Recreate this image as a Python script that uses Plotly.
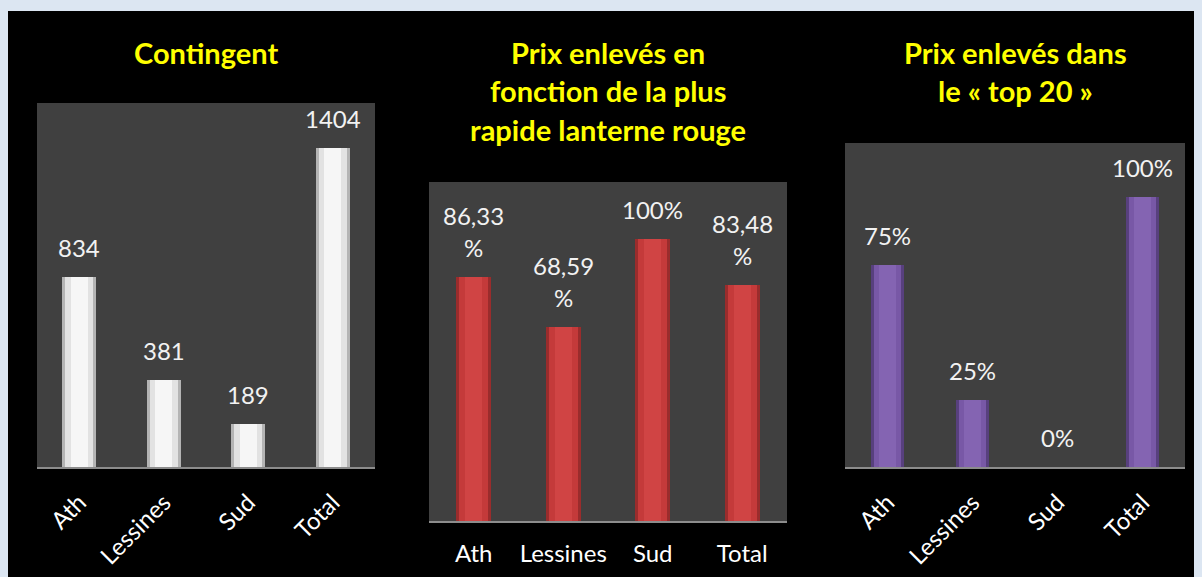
import plotly.graph_objects as go

categories = ["Ath", "Lessines", "Sud", "Total"]
contingent = [834, 381, 189, 1404]
contingent_labels = ["834", "381", "189", "1404"]
prix_lanterne = [0.8633, 0.6859, 1.00, 0.8348]
prix_lanterne_labels = ["86,33<br>%", "68,59<br>%", "100%", "83,48<br>%"]
prix_top20 = [0.75, 0.25, 0.0, 1.00]
prix_top20_labels = ["75%", "25%", "0%", "100%"]

titles = [["Contingent"],
          ["Prix enlevés en", "fonction de la plus", "rapide lanterne rouge"],
          ["Prix enlevés dans", "le « top 20 »"]]

# page offset (default body margin of the html page)
OFF = 8
W, H = 1202 - OFF, 577 - OFF
FONT = "Lato, 'Open Sans', sans-serif"

def px_x(v):
    return (v - OFF) / W

def px_y(v):
    return 1 - (v - OFF) / H

panels = [
    dict(vals=contingent, labels=contingent_labels, rng=[0, 1600],
         dom_x=[px_x(37), px_x(375)], dom_y=[px_y(467), px_y(103)],
         shades=["#b4b4b4", "#e2e2e2", "#f6f6f6"], angle=-45, width=0.4,
         title_x=px_x(206)),
    dict(vals=prix_lanterne, labels=prix_lanterne_labels, rng=[0, 1.2],
         dom_x=[px_x(429), px_x(787)], dom_y=[px_y(521), px_y(182)],
         shades=["#9a2c2c", "#c43a3a", "#d04444"], angle=0, width=0.39,
         title_x=px_x(608)),
    dict(vals=prix_top20, labels=prix_top20_labels, rng=[0, 1.2],
         dom_x=[px_x(845), px_x(1185)], dom_y=[px_y(467), px_y(143)],
         shades=["#58407e", "#7858a6", "#8464b2"], angle=-45, width=0.39,
         title_x=px_x(1015)),
]

fig = go.Figure()
layout = {}
annotations = []
for i, p in enumerate(panels, start=1):
    xa = "x" if i == 1 else f"x{i}"
    ya = "y" if i == 1 else f"y{i}"
    for shade, frac in zip(p["shades"], [1.0, 0.84, 0.5]):
        fig.add_trace(go.Bar(
            x=categories, y=p["vals"], xaxis=xa, yaxis=ya,
            width=p["width"] * frac,
            marker=dict(color=shade, line=dict(width=0)),
            hoverinfo="skip", showlegend=False,
        ))
    for cat, val, lab in zip(categories, p["vals"], p["labels"]):
        lines = lab.split("<br>")
        for k, line in enumerate(reversed(lines)):
            annotations.append(dict(
                text=line, x=cat, y=val, xref=xa, yref=ya,
                xanchor="center", yanchor="bottom", yshift=13 + 32.5 * k,
                showarrow=False,
                font=dict(color="#f2f2f2", size=24, family=FONT)))
    xk = "xaxis" if i == 1 else f"xaxis{i}"
    yk = "yaxis" if i == 1 else f"yaxis{i}"
    layout[xk] = dict(domain=p["dom_x"], anchor=ya, showgrid=False, zeroline=False,
                      showline=True, linecolor="#8c8c8c", linewidth=2,
                      ticks="outside", ticklen=10 if p["angle"] == 0 else 10,
                      tickcolor="rgba(0,0,0,0)",
                      tickangle=p["angle"],
                      tickfont=dict(color="#ffffff", size=24, family=FONT),
                      fixedrange=True)
    layout[yk] = dict(domain=p["dom_y"], anchor=xa, range=p["rng"], visible=False,
                      showgrid=False, zeroline=False, fixedrange=True)
    for k, line in enumerate(titles[i - 1]):
        annotations.append(dict(
            text="<b>" + line + "</b>", x=p["title_x"], y=px_y(52 + 38.5 * k),
            xref="paper", yref="paper", xanchor="center", yanchor="middle",
            showarrow=False,
            font=dict(color="#ffff00", size=29, family=FONT)))

fig.update_layout(**layout)
fig.update_layout(
    width=W, height=H, margin=dict(l=0, r=0, t=0, b=0),
    paper_bgcolor="#000000", plot_bgcolor="#404040",
    barmode="overlay", bargap=0,
    annotations=annotations,
    shapes=[
        dict(type="rect", xref="paper", yref="paper", x0=0, x1=1,
             y0=px_y(11), y1=1, fillcolor="#dce6f2", line=dict(width=0), layer="below"),
    ],
)

fig.write_html("out.html", post_script="document.body.style.background='#dce6f2';")
